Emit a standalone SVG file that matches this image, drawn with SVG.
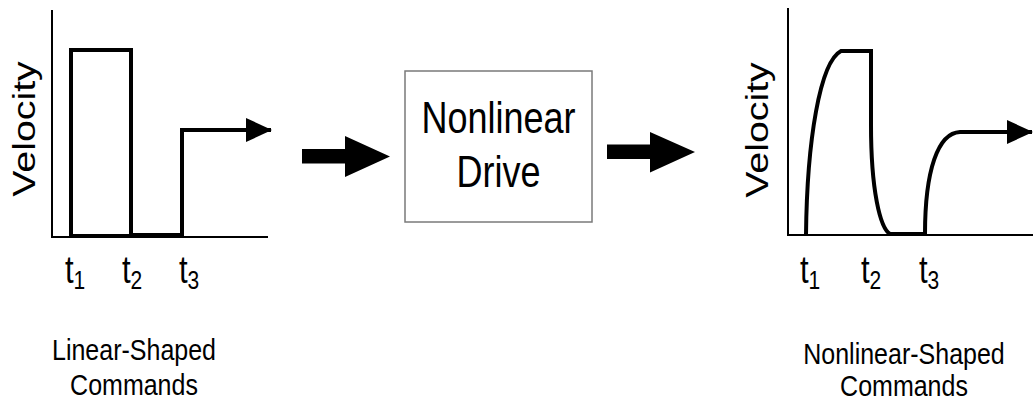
<svg xmlns="http://www.w3.org/2000/svg" width="1033" height="401" viewBox="0 0 1033 401">
  <style>
    text { font-family: "Liberation Sans", Arial, sans-serif; fill: #000; }
    .axis { fill: none; stroke: #000; stroke-width: 2; }
    .trace { fill: none; stroke: #000; stroke-width: 4; stroke-linejoin: miter; }
    .block { fill: #000; stroke: none; }
    .box { fill: #fff; stroke: #7a7a7a; stroke-width: 1.5; }
  </style>
  <defs>
    <marker id="head" markerUnits="userSpaceOnUse" markerWidth="28" markerHeight="26" refX="25" refY="12" orient="auto" overflow="visible">
      <polygon points="0,0 26,12 0,24" fill="#000"/>
    </marker>
  </defs>
  <rect width="1033" height="401" fill="#fff"/>

  <!-- linear-shaped velocity command -->
  <g id="linear-plot">
    <path class="axis" d="M52,10 V237 H268"/>
    <path class="trace" d="M71,236 V50 H131 V236 Z"/>
    <path class="trace" d="M131,235 H182 V130 H271" marker-end="url(#head)"/>
    <text transform="translate(35,129) scale(1,1.23) rotate(-90)" font-size="32" text-anchor="middle">Velocity</text>
    <g transform="translate(0,283) scale(1,1.23)">
      <text x="65" y="0" font-size="31">t<tspan font-size="21" dy="5">1</tspan></text>
      <text x="122" y="0" font-size="31">t<tspan font-size="21" dy="5">2</tspan></text>
      <text x="179" y="0" font-size="31">t<tspan font-size="21" dy="5">3</tspan></text>
    </g>
    <text transform="translate(134,360) scale(1,1.2)" font-size="25" text-anchor="middle">Linear-Shaped</text>
    <text transform="translate(134,395) scale(1,1.2)" font-size="25" text-anchor="middle">Commands</text>
  </g>

  <!-- drive block -->
  <g id="drive">
    <rect class="box" x="405" y="71" width="187" height="151"/>
    <text transform="translate(498.5,133) scale(1,1.23)" font-size="36" text-anchor="middle">Nonlinear</text>
    <text transform="translate(498.5,187) scale(1,1.23)" font-size="36" text-anchor="middle">Drive</text>
  </g>

  <!-- nonlinear-shaped velocity response -->
  <g id="nonlinear-plot">
    <path class="axis" d="M788,8 V235 H1033"/>
    <path class="trace" d="M806,235 C807,140 820,62 841,51 H871 V125 C871,190 880,228 890,234 H925 C925,170 938,133 960,132 H1032" marker-end="url(#head)"/>
    <text transform="translate(768,130) scale(1,1.23) rotate(-90)" font-size="32" text-anchor="middle">Velocity</text>
    <g transform="translate(0,283) scale(1,1.23)">
      <text x="800" y="0" font-size="31">t<tspan font-size="21" dy="5">1</tspan></text>
      <text x="861" y="0" font-size="31">t<tspan font-size="21" dy="5">2</tspan></text>
      <text x="919" y="0" font-size="31">t<tspan font-size="21" dy="5">3</tspan></text>
    </g>
    <text transform="translate(904,364) scale(1,1.2)" font-size="25" text-anchor="middle">Nonlinear-Shaped</text>
    <text transform="translate(904,396) scale(1,1.2)" font-size="25" text-anchor="middle">Commands</text>
  </g>

  <!-- block arrows between stages -->
  <g id="connectors">
    <polygon class="block" points="302,149 345,149 345,136 390,156.5 345,177 345,163.5 302,163.5"/>
    <polygon class="block" points="607,144.5 650,144.5 650,132 695,152 650,172.5 650,159 607,159"/>
  </g>
</svg>
